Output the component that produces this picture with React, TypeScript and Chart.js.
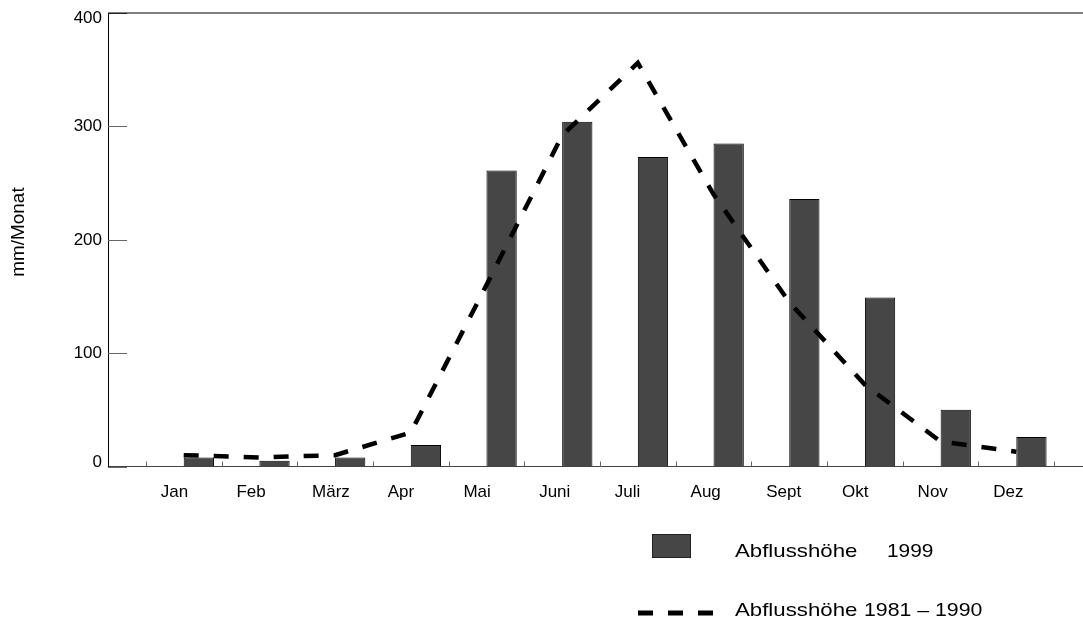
import React, { useEffect, useRef } from 'react';
import { Chart, registerables } from 'chart.js';

Chart.register(...registerables);

// ---- data ----
const months = ['Jan', 'Feb', 'März', 'Apr', 'Mai', 'Juni', 'Juli', 'Aug', 'Sept', 'Okt', 'Nov', 'Dez'];
const runoff1999 = [8, 5, 8, 19, 261, 304, 273, 285, 236, 149, 50, 26];
const runoffMean = [10, 8, 10, 30, 160, 292, 356, 240, 145, 72, 22, 13];
const emptyGroup = [0, 0, 0, 0, 0, 0, 0, 0, 0, 0, 0, 0];
const yTickValues = [0, 100, 200, 300, 400];
const yTitle = 'mm/Monat';
const legendNames = ['Abflusshöhe', 'Abflusshöhe'];
const legendYears = ['1999', '1981 – 1990'];

const FONT = '"Liberation Sans", Arial, Helvetica, sans-serif';

export default function App() {
  const ref = useRef<HTMLCanvasElement>(null);

  useEffect(() => {
    const canvas = ref.current;
    if (!canvas) return;
    const labels = ['', ...months, ''];
    const pad = (a: number[]) => [null, ...a, null];

    const stretchedText = (ctx: CanvasRenderingContext2D, text: string, x: number, y: number, sx: number) => {
      ctx.save();
      ctx.translate(x, y);
      ctx.scale(sx, 1);
      ctx.fillText(text, 0, 0);
      ctx.restore();
    };

    const decor = {
      id: 'decor',
      afterDraw(chart: any) {
        const { ctx, chartArea: a, scales } = chart;
        const x = scales.x;
        const y = scales.y;
        ctx.save();
        // top frame line
        ctx.strokeStyle = '#555';
        ctx.lineWidth = 1.5;
        ctx.beginPath();
        ctx.moveTo(a.left, a.top);
        ctx.lineTo(a.right, a.top);
        ctx.stroke();
        // y tick marks (inward) and labels
        ctx.lineWidth = 1;
        ctx.font = `17px ${FONT}`;
        ctx.textAlign = 'right';
        ctx.textBaseline = 'middle';
        yTickValues.forEach((v, i) => {
          const py = Math.round(y.getPixelForValue(v)) + 0.5;
          ctx.strokeStyle = v === 400 ? '#222' : '#666';
          ctx.beginPath();
          ctx.moveTo(a.left, py);
          ctx.lineTo(a.left + 19, py);
          ctx.stroke();
          const shift = i === 0 ? -5 : i === yTickValues.length - 1 ? 5 : 0;
          ctx.fillStyle = '#000';
          ctx.fillText(String(v), a.left - 6, py + shift);
        });
        // x tick marks (inward, between categories)
        ctx.strokeStyle = '#666';
        for (let i = 0; i <= months.length; i++) {
          const px = Math.round((x.getPixelForValue(i) + x.getPixelForValue(i + 1)) / 2) + 0.5;
          ctx.beginPath();
          ctx.moveTo(px, a.bottom);
          ctx.lineTo(px, a.bottom - 5);
          ctx.stroke();
        }
        // y title
        ctx.fillStyle = '#000';
        ctx.font = `18px ${FONT}`;
        ctx.textAlign = 'center';
        ctx.textBaseline = 'middle';
        ctx.save();
        ctx.translate(19, 232);
        ctx.rotate(-Math.PI / 2);
        ctx.scale(1.05, 1);
        ctx.fillText(yTitle, 0, 0);
        ctx.restore();
        // legend
        ctx.fillStyle = '#464646';
        ctx.fillRect(652, 534, 39, 24);
        ctx.strokeStyle = '#222';
        ctx.lineWidth = 1;
        ctx.strokeRect(652.5, 534.5, 38, 23);
        ctx.strokeStyle = '#000';
        ctx.lineWidth = 5;
        ctx.setLineDash([15, 15]);
        ctx.beginPath();
        ctx.moveTo(638, 613);
        ctx.lineTo(713, 613);
        ctx.stroke();
        ctx.setLineDash([]);
        ctx.fillStyle = '#000';
        ctx.font = `19px ${FONT}`;
        ctx.textAlign = 'left';
        ctx.textBaseline = 'alphabetic';
        stretchedText(ctx, legendNames[0], 735, 557, 1.17);
        stretchedText(ctx, legendYears[0], 887, 557, 1.1);
        stretchedText(ctx, legendNames[1], 735, 616, 1.17);
        stretchedText(ctx, legendYears[1], 864, 616, 1.12);
        ctx.restore();
      },
    };

    const chart = new Chart(canvas, {
      type: 'bar',
      data: {
        labels,
        datasets: [
          {
            type: 'line',
            label: 'Abflusshöhe 1981 – 1990',
            data: pad(runoffMean),
            borderColor: '#000',
            borderWidth: 4.5,
            borderDash: [15, 15],
            pointRadius: 0,
            fill: false,
            tension: 0,
            order: 0,
          } as any,
          {
            label: '',
            data: pad(emptyGroup),
            backgroundColor: '#464646',
            borderColor: '#000',
            borderWidth: 1,
            order: 1,
          },
          {
            label: 'Abflusshöhe 1999',
            data: pad(runoff1999),
            backgroundColor: '#464646',
            borderColor: '#000',
            borderWidth: 1,
            order: 1,
          },
        ],
      },
      options: {
        responsive: false,
        animation: false,
        layout: { padding: { top: 13, left: 0, right: 0, bottom: 0 } },
        datasets: {
          bar: { categoryPercentage: 0.8, barPercentage: 1.0 },
        },
        plugins: {
          legend: { display: false },
          tooltip: { enabled: false },
          title: { display: false },
        },
        scales: {
          x: {
            type: 'category',
            offset: false,
            grid: { display: false, drawTicks: false },
            border: { display: true, color: '#444', width: 1 },
            ticks: {
              autoSkip: false,
              maxRotation: 0,
              minRotation: 0,
              align: 'start',
              labelOffset: -23,
              padding: 16,
              color: '#000',
              font: { family: FONT, size: 17 },
            },
            afterFit: (s: any) => {
              s.height = 156.5;
            },
          },
          y: {
            min: 0,
            max: 400,
            grid: { display: false, drawTicks: false },
            border: { display: true, color: '#000', width: 1 },
            ticks: {
              display: false,
              stepSize: 100,
            },
            afterFit: (s: any) => {
              s.width = 108;
            },
          },
        },
      } as any,
      plugins: [decor],
    });
    return () => chart.destroy();
  }, []);

  return (
    <div
      style={{
        position: 'fixed',
        left: 0,
        top: 0,
        width: 1083,
        height: 623,
        overflow: 'hidden',
        background: '#fff',
      }}
    >
      <canvas ref={ref} width={1108} height={623} style={{ display: 'block', width: 1108, height: 623 }} />
    </div>
  );
}
